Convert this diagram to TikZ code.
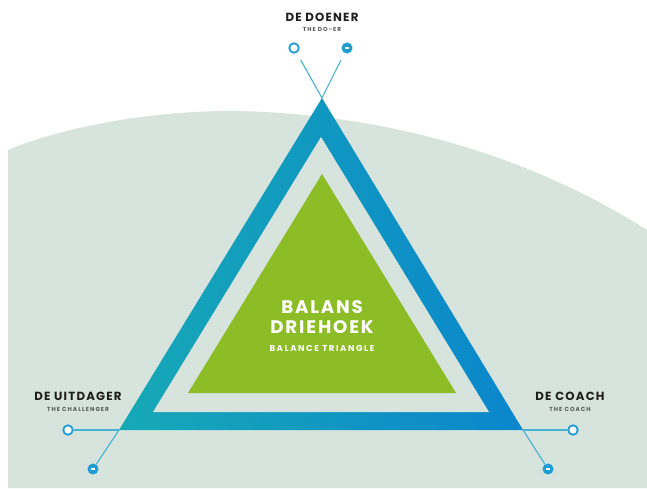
\documentclass[tikz,border=0pt]{standalone}
\usepackage{fontspec}
\setmainfont{Poppins}
\newfontfamily\widefont{Poppins}[LetterSpace=10]
\newfontfamily\widerfont{Poppins}[LetterSpace=18]
\definecolor{bgc}{HTML}{D6E4DD}
\definecolor{teal1}{HTML}{17A9B6}
\definecolor{blue1}{HTML}{0A86CC}
\definecolor{greenc}{HTML}{8CBC26}
\definecolor{linec}{HTML}{44B2D2}
\definecolor{ringc}{HTML}{1E9CD4}
\definecolor{txt}{HTML}{1E1E1E}
\tikzset{
  pole/.style={circle, draw=ringc, line width=1.8pt, fill=white, minimum size=9.5pt, inner sep=0pt},
  polem/.style={circle, fill=ringc, minimum size=11pt, inner sep=0pt,
     path picture={\draw[white, line width=1.4pt] ([xshift=-2.2pt]path picture bounding box.center) -- ([xshift=2.2pt]path picture bounding box.center);}},
  conn/.style={draw=linec, line width=1.1pt},
  title/.style={font=\widefont\fontsize{11.8}{13}\selectfont\bfseries, text=txt, inner sep=0pt},
  sub/.style={font=\widerfont\fontsize{5.8}{6}\selectfont\bfseries, text=txt!75, inner sep=0pt},
  center/.style={font=\widefont\fontsize{18.2}{20}\selectfont\bfseries, text=white, inner sep=0pt},
  centersub/.style={font=\widerfont\fontsize{8.6}{9}\selectfont\bfseries, text=white, inner sep=0pt},
}
\begin{document}
\begin{tikzpicture}[x=1pt,y=-1pt]
\useasboundingbox (0,0) rectangle (647,488);
\fill[white] (0,0) rectangle (647,488);
% background
\fill[bgc] (8,488) -- (8,150) .. controls (60,128) and (150,110) .. (240,111)
   .. controls (380,115) and (520,150) .. (647,230) -- (647,488) -- cycle;
% vertices
\coordinate (T) at (322,98);
\coordinate (L) at (119,430);
\coordinate (R) at (523,430);
% poles and connectors (edge extensions)
\node[pole]  (tp) at (294,48) {};
\node[polem] (tm) at (347,48) {};
\node[pole]  (lp) at (68,430) {};
\node[polem] (lm) at (93,469) {};
\node[pole]  (rp) at (573,430) {};
\node[polem] (rm) at (548,469) {};
\draw[conn, shorten >=8pt] (T) -- (tp);
\draw[conn, shorten >=8pt] (T) -- (tm);
\draw[conn] (L) -- (lp);
\draw[conn] (L) -- (lm);
\draw[conn] (R) -- (rp);
\draw[conn] (R) -- (rm);
% outer triangle
\shade[left color=teal1, right color=blue1, middle color=teal1!50!blue1] (T) -- (R) -- (L) -- cycle;
\fill[bgc] (321,137) -- (489,412) -- (153,412) -- cycle;
% green
\fill[greenc] (322,174) -- (456,393) -- (188,393) -- cycle;
% texts
\node[title] (tdoe) at (322,17) {DE DOENER};
\node[sub] (sdoe) at (322,29) {THE DO-ER};
\node[title] (tuit) at (78,396) {DE UITDAGER};
\node[sub] (suit) at (78,409) {THE CHALLENGER};
\node[title] (tcoa) at (570,396) {DE COACH};
\node[sub] (scoa) at (570,409) {THE COACH};
\node[center] (c1) at (322,307) {BALANS};
\node[center] (c2) at (322,327) {DRIEHOEK};
\node[centersub] (c3) at (322,348) {BALANCE TRIANGLE};
\end{tikzpicture}
\end{document}
